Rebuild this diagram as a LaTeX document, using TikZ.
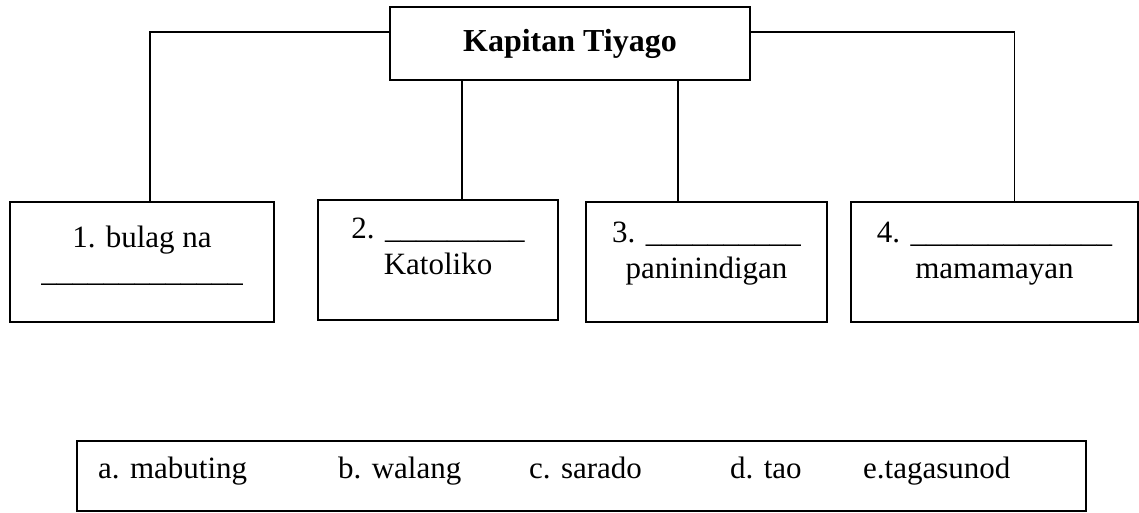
\documentclass[tikz,border=0pt]{standalone}
\usepackage{fontspec}
\setmainfont{Liberation Serif}
\usepackage{tikz}

\begin{document}
\begin{tikzpicture}[x=1pt,y=-1pt,
    every node/.style={font=\fontsize{31}{36}\selectfont},
    box/.style={draw,line width=1.6pt,inner sep=0pt},
    lbl/.style={align=center,inner sep=0pt,anchor=north},
    opt/.style={inner sep=0pt,anchor=base west},
    wire/.style={line width=1.6pt}]
    \useasboundingbox (0,0) rectangle (1139,512);
    % top box
    \node[box,line width=2pt,minimum width=360pt,minimum height=73pt,
      font=\fontsize{32}{36}\selectfont\bfseries] (kap) at (570,43.5) {Kapitan Tiyago};
    % the four boxes
    \node[box,minimum width=264pt,minimum height=120pt] (b1) at (142,262) {};
    \node[box,minimum width=240pt,minimum height=120pt] (b2) at (438,260) {};
    \node[box,minimum width=241pt,minimum height=120pt] (b3) at (706.5,262) {};
    \node[box,minimum width=287pt,minimum height=120pt] (b4) at (994.5,262) {};
    \node[lbl] (t1) at ([yshift=-25pt]b1.north) {1. bulag na\\[-2pt]\_\_\_\_\_\_\_\_\_\_\_\_\_};
    \node[lbl] (t2) at ([yshift=-19pt]b2.north) {2. \_\_\_\_\_\_\_\_\_\\Katoliko};
    \node[lbl] (t3) at ([yshift=-21pt]b3.north) {3. \_\_\_\_\_\_\_\_\_\_\\paninindigan};
    \node[lbl] (t4) at ([yshift=-21pt]b4.north) {4. \_\_\_\_\_\_\_\_\_\_\_\_\_\\mamamayan};
    % connectors
    \draw[wire] ([yshift=11.5pt]kap.west) -| ([xshift=8pt]b1.north);
    \draw[wire] ([yshift=11.5pt]kap.east) -| ([xshift=20pt]b4.north);
    \draw[wire] ([xshift=-108pt]kap.south) -- ([xshift=-108pt]kap.south |- b2.north);
    \draw[wire] ([xshift=108pt]kap.south) -- ([xshift=108pt]kap.south |- b3.north);
    % choices
    \node[box,minimum width=1009pt,minimum height=70pt] (key) at (581.5,476) {};
    \node[opt] (ca) at (98,478) {a. mabuting};
    \node[opt] (cb) at (338,478) {b. walang};
    \node[opt] (cc) at (529,478) {c. sarado};
    \node[opt] (cd) at (730,478) {d. tao};
    \node[opt] (ce) at (863,478) {e.tagasunod};
  \end{tikzpicture}
\end{document}
